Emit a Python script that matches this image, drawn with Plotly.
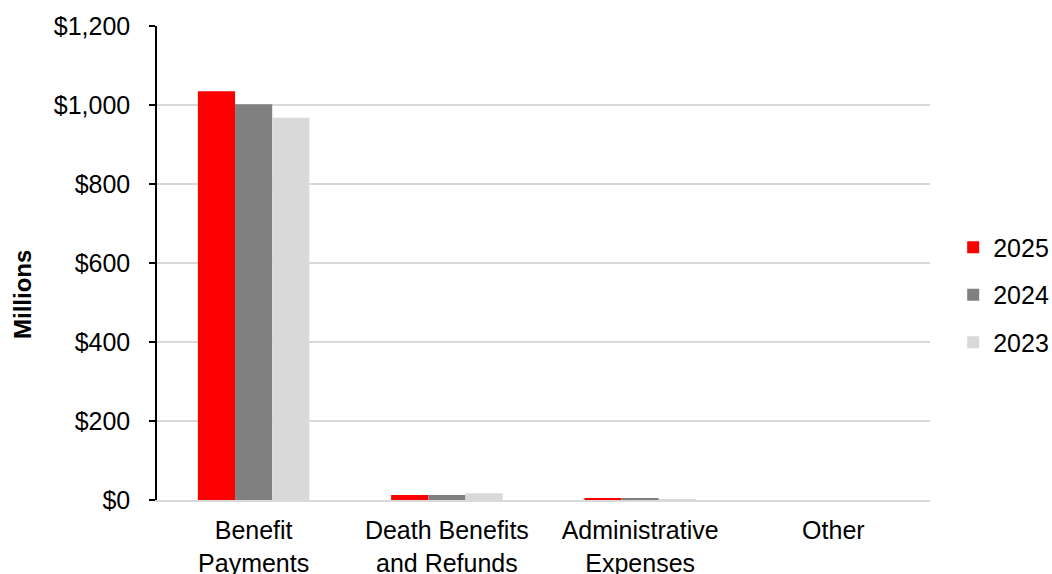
import plotly.graph_objects as go

categories = ["Benefit<br>Payments", "Death Benefits<br>and Refunds", "Administrative<br>Expenses", "Other"]
years = ["2025", "2024", "2023"]
values_2025 = [1035, 12.5, 4, 0]
values_2024 = [1002, 12.5, 3, 0]
values_2023 = [968, 17, 2, 0]
colors = ["#FF0000", "#808080", "#D9D9D9"]

fig = go.Figure()
for i, (name, vals) in enumerate(zip(years, [values_2025, values_2024, values_2023])):
    fig.add_trace(go.Bar(
        x=categories, y=vals, name=name, marker=dict(color=colors[i], line=dict(width=0)),
        legendgroup=name,
    ))

font_family = "Liberation Sans, Arial, sans-serif"
FS = 25
fig.update_layout(
    width=1052, height=574,
    margin=dict(l=157, r=122, t=26, b=74, autoexpand=False),
    paper_bgcolor="white", plot_bgcolor="white",
    barmode="group", bargap=0.423, bargroupgap=0,
    font=dict(family=font_family, size=FS, color="black"),
    showlegend=True,
    legend=dict(x=1.03, y=0.4325, xanchor="left", yanchor="middle",
                font=dict(size=FS), tracegroupgap=12, traceorder="grouped",
                bgcolor="rgba(0,0,0,0)"),
    xaxis=dict(showgrid=False, showline=True, linecolor="#D9D9D9", linewidth=2,
               ticks="", tickfont=dict(size=FS), zeroline=False, automargin=False,
               ticklabelstandoff=7),
    yaxis=dict(range=[0, 1200], dtick=200, tickprefix="$", tickformat=",d",
               showgrid=True, gridcolor="#D9D9D9", gridwidth=1.5,
               showline=True, linecolor="black", linewidth=1.5,
               ticks="outside", ticklen=6, tickcolor="black", tickwidth=1.5,
               ticklabelstandoff=14, zeroline=False, automargin=False,
               tickfont=dict(size=FS)),
    annotations=[dict(text="<b>Millions</b>", textangle=-90, xref="paper", yref="paper",
                      x=(22 - 157) / 773, y=(500 - 295) / 474, xanchor="center", yanchor="middle",
                      showarrow=False, font=dict(size=24))],
)

fig.write_html("out.html")
